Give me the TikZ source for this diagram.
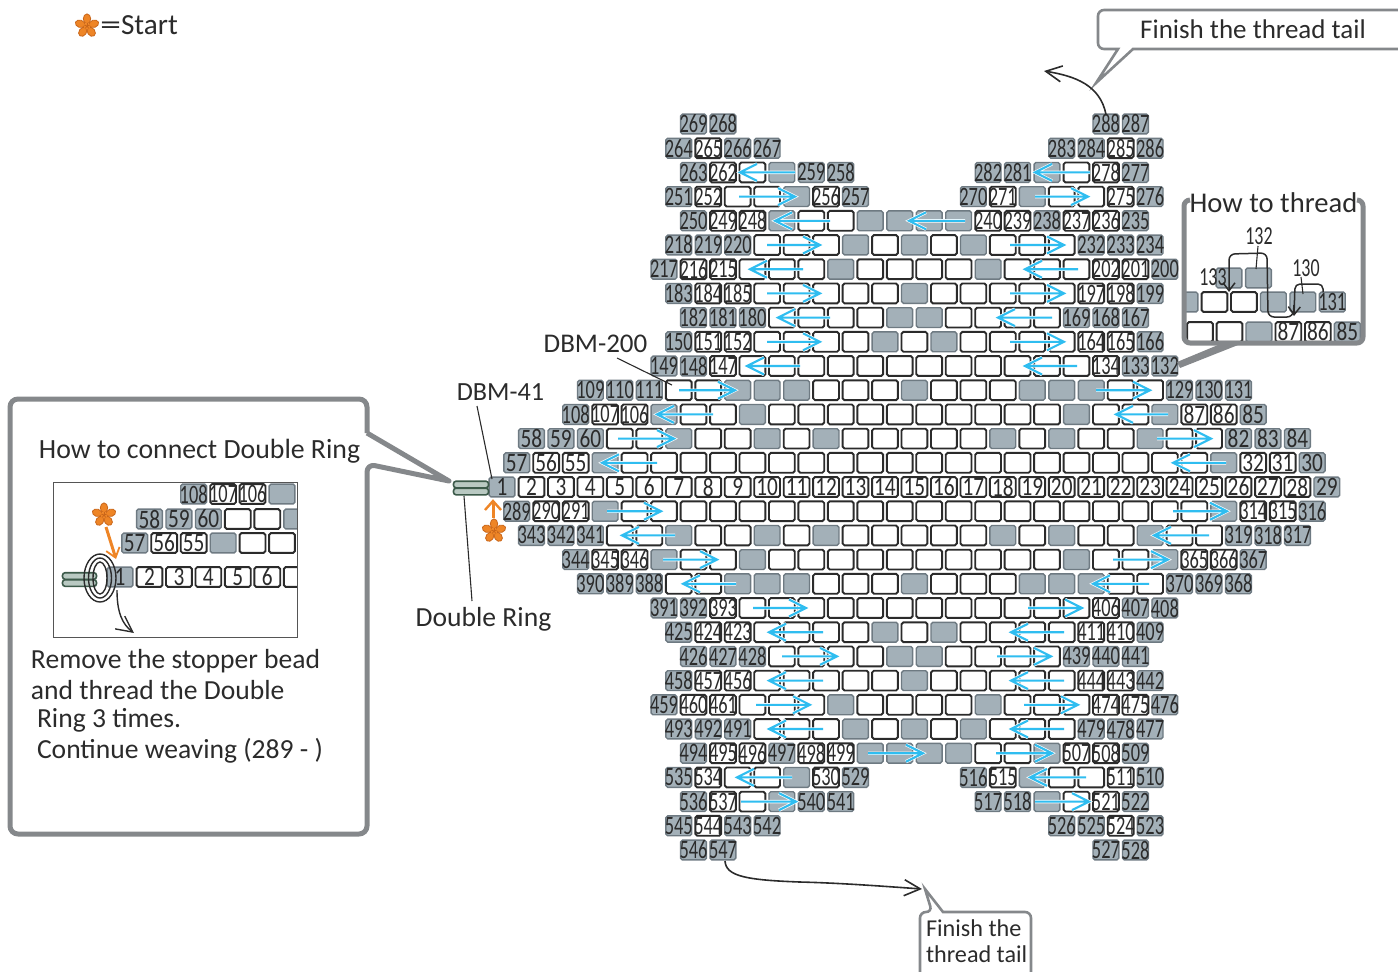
\documentclass[tikz,border=0pt]{standalone}
\usepackage{fontspec}
\setmainfont{Carlito}
\newfontfamily\numthree[FakeStretch=0.69]{Carlito}
\newfontfamily\numtwo[FakeStretch=0.8]{Carlito}
\usetikzlibrary{arrows.meta}
\definecolor{beadgray}{HTML}{A3B0B8}
\definecolor{beadedge}{HTML}{6E7A82}
\definecolor{inkc}{HTML}{2B2B2B}
\definecolor{calloutc}{HTML}{85888B}
\definecolor{cyanc}{HTML}{2FBDF0}
\definecolor{orangec}{HTML}{EE8526}
\definecolor{orangeedge}{HTML}{C9661A}
\definecolor{ringfill}{HTML}{B9C9C2}
\definecolor{ringedge}{HTML}{3C5A4A}
\tikzset{
 beadbase/.style={rectangle,inner sep=0pt,outer sep=0pt,minimum width=12.9pt,minimum height=9.9pt,rounded corners=0.9pt,text=inkc,font=\fontsize{13.3}{13}\selectfont},
 gb/.style={beadbase,fill=beadgray,draw=beadedge,line width=0.7pt},
 wb/.style={beadbase,fill=white,draw=inkc,line width=0.95pt},
 halo/.style={draw=white,line width=1.7pt},
 bluearrow/.style={draw=cyanc,line width=1.05pt},
 blackline/.style={draw=inkc,line width=0.55pt},
 tailarrow/.style={draw=inkc,line width=0.8pt,-{Straight Barb[length=8pt,width=8pt,line width=0.8pt]}},
 thickcall/.style={draw=calloutc,line width=2.5pt,line join=round},
 thincall/.style={draw=calloutc,line width=1.3pt,line join=miter},
 ttl/.style={inner sep=0pt,outer sep=0pt,text=inkc,font=\fontsize{13.8}{16}\selectfont},
 bignum/.style={inner sep=0pt,outer sep=0pt,text=inkc,font=\fontsize{13}{13}\selectfont\numthree},
 ringbar/.style={rectangle,rounded corners=1.3pt,inner sep=0pt,outer sep=0pt,fill=ringfill,draw=ringedge,line width=0.8pt,minimum height=3.3pt},
 petal/.style={fill=orangec,draw=orangeedge,line width=0.4pt},
 orangeline/.style={draw=orangec,line width=1.5pt},
}
\newcommand\labelnum[1]{\makebox[0pt][c]{\ifnum0#1>99 \numthree #1\else\numtwo #1\fi}}
\def\splititem#1#2\endsplit{\def\ty{#1}\def\lb{#2}}
\newcommand\beadsat[5]{%
 \foreach \itm [count=\i from 0] in {#5}{%
   \expandafter\splititem\itm\endsplit
   \pgfmathsetmacro\bx{#2+14.73*(#4+2*\i)}%
   \node[\ty b] (#1-#4-\i) at (\bx,#3) {\labelnum{\lb}};
 }}
\newcommand\beadrow[3]{\pgfmathsetmacro\ry{124+24.2*#1}\beadsat{b#1}{502}{\ry}{#2}{#3}}
\newcommand\barr[3]{%
 \pgfmathsetmacro\ay{124+24.2*#1}%
 \pgfmathsetmacro\ad{#3>#2?1:-1}%
 \pgfmathsetmacro\abx{#3-17*\ad}%
 \pgfmathsetmacro\aup{\ay-8.5}%
 \pgfmathsetmacro\adn{\ay+8.5}%
 \coordinate (t#1-#2) at (#2,\ay);
 \coordinate (h#1-#2) at (#3,\ay);
 \coordinate (u#1-#2) at (\abx,\aup);
 \coordinate (d#1-#2) at (\abx,\adn);
 \draw[halo] (t#1-#2) -- (h#1-#2) (u#1-#2) -- (h#1-#2) -- (d#1-#2);
 \draw[bluearrow] (t#1-#2) -- (h#1-#2) (u#1-#2) -- (h#1-#2) -- (d#1-#2);
}
\newcommand\flower[2]{%
 \begin{scope}[shift={(#1,#2)}]
  \foreach \a in {0,72,144,216,288}{\draw[petal,rotate=\a] (0,-7.2) ellipse [x radius=3.7,y radius=4.9];}
  \fill[orangec] (0,0) circle [radius=3.4];
  \foreach \a in {0,72,144,216,288}{\draw[draw=orangeedge,line width=0.35pt,rotate=\a] (0,0) -- (0,-3);}
 \end{scope}}
\begin{document}
\begin{tikzpicture}[x=0.5pt,y=-0.5pt]
\useasboundingbox (0,0) rectangle (1398,971);
% legend
\flower{87}{26}
\node[ttl,anchor=west,font=\fontsize{14.6}{16}\selectfont] (legend) at (100,25.5) {\scalebox{1.45}[1]{=}Start};
% bead rows
\beadrow{0}{13}{g269,g268}
\beadrow{0}{41}{g288,g287}
\beadrow{1}{12}{g264,w265,g266,g267}
\beadrow{1}{38}{g283,g284,w285,g286}
\beadrow{2}{13}{g263,w262,w,g,g259,g258}
\beadrow{2}{33}{g282,g281,g,w,w278,g277}
\beadrow{3}{12}{g251,w252,w,w,g,w256,g257}
\beadrow{3}{32}{g270,w271,g,w,w,w275,g276}
\beadrow{4}{13}{g250,w249,w248,g,w,w,g,g,g,g,w240,w239,g238,w237,w236,g235}
\beadrow{5}{12}{g218,g219,g220,w,w,w,g,w,g,w,g,w,w,w,g232,g233,g234}
\beadrow{6}{11}{g217,w216,w215,w,w,w,g,w,w,w,w,g,w,w,w,w202,w201,g200}
\beadrow{7}{12}{g183,w184,w185,w,w,w,w,w,g,w,w,w,w,w,w197,w198,g199}
\beadrow{8}{13}{g182,g181,g180,w,w,w,w,g,g,w,w,w,w,g169,g168,g167}
\beadrow{9}{12}{g150,w151,w152,w,w,w,w,g,w,g,w,w,w,w,w164,w165,g166}
\beadrow{10}{11}{g149,g148,w147,w,w,w,w,w,w,w,w,w,w,w,w,w134,g133,g132}
\beadrow{11}{6}{g109,g110,g111,w,w,g,g,g,w,w,w,g,w,w,w,g,g,g,w,w,g129,g130,g131}
\beadrow{12}{5}{g108,w107,w106,g,w,w,g,w,w,w,w,w,w,w,w,w,w,g,w,w,g,w87,w86,g85}
\beadrow{13}{2}{g58,g59,g60,w,w,g,w,w,g,w,g,w,w,w,w,w,g,w,g,w,w,g,w,w,g82,g83,g84}
\beadrow{14}{1}{g57,w56,w55,g,w,w,w,w,w,w,w,w,w,w,w,w,w,w,w,w,w,w,w,w,g,w32,w31,g30}
\beadrow{15}{0}{g1,w2,w3,w4,w5,w6,w7,w8,w9,w10,w11,w12,w13,w14,w15,w16,w17,w18,w19,w20,w21,w22,w23,w24,w25,w26,w27,w28,g29}
\beadrow{16}{1}{g289,w290,w291,g,w,w,w,w,w,w,w,w,w,w,w,w,w,w,w,w,w,w,w,w,g,w314,w315,g316}
\beadrow{17}{2}{g343,g342,g341,w,w,g,w,w,g,w,g,w,w,w,w,w,g,w,g,w,w,g,w,w,g319,g318,g317}
\beadrow{18}{5}{g344,w345,w346,g,w,w,g,w,w,w,w,w,w,w,w,w,w,g,w,w,g,w365,w366,g367}
\beadrow{19}{6}{g390,g389,g388,w,w,g,g,g,w,w,w,g,w,w,w,g,g,g,w,w,g370,g369,g368}
\beadrow{20}{11}{g391,g392,w393,w,w,w,w,w,w,w,w,w,w,w,w,w406,g407,g408}
\beadrow{21}{12}{g425,w424,w423,w,w,w,w,g,w,g,w,w,w,w,w411,w410,g409}
\beadrow{22}{13}{g426,g427,g428,w,w,w,w,g,g,w,w,w,w,g439,g440,g441}
\beadrow{23}{12}{g458,w457,w456,w,w,w,w,w,g,w,w,w,w,w,w444,w443,g442}
\beadrow{24}{11}{g459,w460,w461,w,w,w,g,w,w,w,w,g,w,w,w,w474,w475,g476}
\beadrow{25}{12}{g493,g492,g491,w,w,w,g,w,g,w,g,w,w,w,g479,g478,g477}
\beadrow{26}{13}{g494,w495,w496,g497,w498,w499,g,g,g,g,w,w,g,w507,w508,g509}
\beadrow{27}{12}{g535,w534,w,w,g,w530,g529}
\beadrow{27}{32}{g516,w515,g,w,w,w511,g510}
\beadrow{28}{13}{g536,w537,w,g,g540,g541}
\beadrow{28}{33}{g517,g518,g,w,w521,g522}
\beadrow{29}{12}{g545,w544,g543,g542}
\beadrow{29}{38}{g526,g525,w524,g523}
\beadrow{30}{13}{g546,g547}
\beadrow{30}{41}{g527,g528}
% blue arrows
\barr{2}{795}{740}\barr{2}{1090}{1035}
\barr{3}{739}{795}\barr{3}{1035}{1088}
\barr{4}{830}{775}\barr{4}{965}{909}
\barr{5}{767}{820}\barr{5}{1010}{1064}
\barr{6}{803}{750}\barr{6}{1078}{1025}
\barr{7}{767}{820}\barr{7}{1010}{1064}
\barr{8}{830}{778}\barr{8}{1052}{998}
\barr{9}{767}{820}\barr{9}{1010}{1064}
\barr{10}{800}{747}\barr{10}{1077}{1025}
\barr{11}{679}{735}\barr{11}{1096}{1150}
\barr{12}{713}{657}\barr{12}{1168}{1116}
\barr{13}{618}{674}\barr{13}{1157}{1211}
\barr{14}{657}{602}\barr{14}{1226}{1173}
\barr{16}{607}{661}\barr{16}{1173}{1227}
\barr{17}{675}{622}\barr{17}{1209}{1154}
\barr{18}{663}{717}\barr{18}{1113}{1168}
\barr{19}{736}{683}\barr{19}{1149}{1093}
\barr{20}{753}{806}\barr{20}{1028}{1082}
\barr{21}{823}{769}\barr{21}{1064}{1011}
\barr{22}{782}{837}\barr{22}{997}{1051}
\barr{23}{823}{769}\barr{23}{1064}{1011}
\barr{24}{756}{810}\barr{24}{1024}{1078}
\barr{25}{823}{769}\barr{25}{1064}{1011}
\barr{26}{868}{923}\barr{26}{996}{1052}
\barr{27}{792}{737}\barr{27}{1086}{1030}
\barr{28}{741}{796}\barr{28}{1035}{1089}
% double ring and start marks
\node[ringbar,minimum width=17.5pt] (ringa) at (471,484.5) {};
\node[ringbar,minimum width=17.5pt] (ringb) at (471,491.5) {};
\flower{494}{531}
\coordinate (oa) at (493,518);
\coordinate (ob) at (493,501);
\coordinate (oc) at (485,510);
\coordinate (od) at (501,510);
\draw[orangeline] (oa) -- (ob);
\draw[orangeline,line width=1.2pt] (oc) -- (ob) -- (od);
% labels with leaders
\node[ttl,font=\fontsize{13.5}{16}\selectfont] (dbmtwo) at (595.5,344) {DBM-200};
\coordinate (dbmtwoend) at (672,385);
\coordinate (dbmtwostart) at (617,358);
\draw[blackline] (dbmtwostart) -- (dbmtwoend);
\node[ttl,font=\fontsize{13.1}{16}\selectfont] (dbmone) at (500.5,392) {DBM-41};
\coordinate (dbmonestart) at (477,406);
\coordinate (dbmoneend) at (492,479);
\draw[blackline] (dbmonestart) -- (dbmoneend);
\node[ttl] (ringlabel) at (483.5,619.5) {Double Ring};
\coordinate (ringstart) at (464,496);
\coordinate (ringend) at (472,601);
\draw[blackline] (ringstart) -- (ringend);
% finish top
\draw[thincall] (1398.5,49) -- (1133,49) -- (1096,83) -- (1118,49) [rounded corners=3pt] -- (1098,49) -- (1098,10) -- (1402,10);
\node[ttl,font=\fontsize{13.5}{16}\selectfont] (fintop) at (1253,29) {Finish the thread tail};
\coordinate (tiptop) at (1044,71);
\draw[tailarrow] (b0-41-0.north) .. controls (1100,85) and (1075,76) .. (tiptop);
% finish bottom
\coordinate (tipbot) at (922,889);
\draw[tailarrow] (725,861) .. controls (726,876) and (745,880) .. (800,882) .. controls (840,883) and (880,886) .. (tipbot);
\draw[thincall] (920,985) [rounded corners=3pt] -- (920,912) -- (932,912) [sharp corners] -- (925,889) -- (943,912) [rounded corners=3pt] -- (1031,912) -- (1031,985);
\node[ttl,anchor=west,align=left,font=\fontsize{12.1}{13}\selectfont] (finbot) at (926,941) {Finish the\\thread tail};
% how to thread
\begin{scope}
 \clip (1186,200) rectangle (1362,342);
 \beadsat{ta}{1185}{302}{0}{g,w,w,g,g,g131}
 \beadsat{tb}{1200}{332}{0}{w,w,g,w87,w86,g85}
 \beadsat{tc}{1229}{278}{0}{g,g}
\end{scope}
\fill[calloutc] (1177,362) -- (1180,368) -- (1238,345) -- (1218,345) -- cycle;
\draw[thickcall,rounded corners=3pt] (1190,200) -- (1184,200) -- (1184,343) -- (1363,343) -- (1363,200) -- (1357,200);
\node[ttl,font=\fontsize{14.3}{16}\selectfont] (howthread) at (1273.5,203) {How to thread};
\draw[draw=inkc,line width=0.75pt,rounded corners=2.5pt,-{Straight Barb[length=4pt,width=6pt]}] (1323,292) -- (1323,284) -- (1295,284) -- (1294,316);
\draw[draw=inkc,line width=0.75pt,rounded corners=3pt,-{Straight Barb[length=4pt,width=6pt]}] (1294,305) -- (1293,317) -- (1268,317) -- (1267,253) -- (1229,254) -- (1229,292);
\node[bignum] (ltwo) at (1259,236) {132};
\node[bignum] (lthree) at (1306,268) {130};
\node[bignum] (lone) at (1213,277) {133};
\coordinate (ltwoa) at (1258,246);
\coordinate (ltwob) at (1256,269);
\coordinate (lthreea) at (1301,277);
\coordinate (lthreeb) at (1303,294);
\draw[blackline] (ltwoa) -- (ltwob);
\draw[blackline] (lthreea) -- (lthreeb);
% left callout
\draw[thickcall] (367,433) [rounded corners=4pt] -- (367,399) -- (10,399) -- (10,834) -- (367,834) -- (367,464) [sharp corners] -- (449,481) -- (367,433);
\node[ttl,anchor=west,font=\fontsize{13.9}{16}\selectfont] (conn) at (39,451.5) {How to connect Double Ring};
\begin{scope}
 \clip (53,482) rectangle (297,637);
 \beadsat{ma}{120}{494}{5}{g108,w107,w106,g}
 \beadsat{mb}{120}{519}{2}{g58,g59,g60,w,w,g}
 \beadsat{mc}{120}{543}{1}{g57,w56,w55,g,w,w}
 \beadsat{md}{120}{577}{0}{g1,w2,w3,w4,w5,w6,w}
\end{scope}
\draw[draw=inkc!80,line width=0.5pt] (53,482) rectangle (297,637);
\node[ringbar,minimum width=17pt] (mra) at (79.5,576) {};
\node[ringbar,minimum width=17pt] (mrb) at (79.5,583) {};
\draw[draw=inkc,line width=0.7pt] (100,578) ellipse [x radius=16,y radius=24];
\draw[draw=inkc,line width=0.7pt] (100,578) ellipse [x radius=11.5,y radius=20];
\draw[draw=inkc,line width=0.7pt] (100,578) ellipse [x radius=7,y radius=16];
\coordinate (mtip) at (134,633);
\draw[draw=inkc,line width=0.7pt,-{Straight Barb[length=8pt,width=8pt]}] (117,590) .. controls (117,612) and (122,624) .. (mtip);
\flower{104}{515}
\coordinate (moa) at (106,527);
\coordinate (mob) at (116,559);
\draw[orangeline,-{Straight Barb[length=4.5pt,width=7pt,line width=0.9pt]}] (moa) -- (mob);
\node[ttl,anchor=west] (rema) at (31,661.5) {Remove the stopper bead};
\node[ttl,anchor=west] (remb) at (31,690.5) {and thread the Double};
\node[ttl,anchor=west] (remc) at (37,720.5) {Ring 3 times.};
\node[ttl,anchor=west] (remd) at (37,750.5) {Continue weaving (289 - )};
\end{tikzpicture}
\end{document}
